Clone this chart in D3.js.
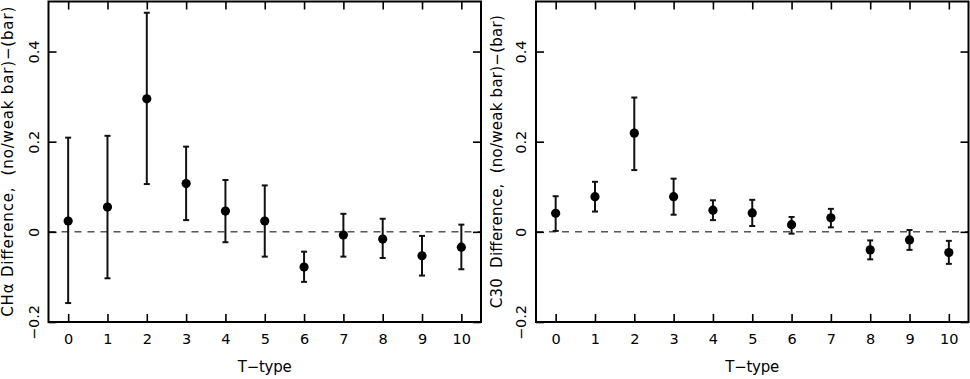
<html>
<head>
<meta charset="utf-8">
<script src="https://d3js.org/d3.v7.min.js"></script>
<style>
body { margin: 0; background: #fff; }
svg { font-family: 'DejaVu Sans', sans-serif; }
.axis path { display: none; }
.axis line { stroke: #000; stroke-width: 1.6; }
.axis text { font-size: 14.5px; fill: #000; font-family: 'DejaVu Sans', sans-serif; }
.frame { fill: none; stroke: #000; stroke-width: 2; }
.zero { stroke: #000; stroke-width: 1; stroke-dasharray: 7,6; }
.err { stroke: #111; stroke-width: 2; }
.title { font-size: 15px; white-space: pre; fill: #000; }
</style>
</head>
<body>
<svg></svg>
<script>

var width = 970,
    height = 379;

// data
var ttypes = [0, 1, 2, 3, 4, 5, 6, 7, 8, 9, 10];

var chaMean = [0.024, 0.055, 0.295, 0.107, 0.046, 0.024, -0.078, -0.007, -0.016, -0.053, -0.034];
var chaHigh = [0.209, 0.213, 0.486, 0.189, 0.115, 0.103, -0.044, 0.040, 0.029, -0.009, 0.016];
var chaLow  = [-0.158, -0.103, 0.106, 0.026, -0.023, -0.055, -0.111, -0.055, -0.058, -0.097, -0.083];

var c30Mean = [0.041, 0.078, 0.219, 0.078, 0.048, 0.042, 0.016, 0.031, -0.040, -0.018, -0.046];
var c30High = [0.079, 0.111, 0.298, 0.118, 0.070, 0.071, 0.033, 0.051, -0.019, 0.004, -0.020];
var c30Low  = [0.002, 0.045, 0.137, 0.038, 0.026, 0.013, -0.004, 0.010, -0.061, -0.040, -0.071];

var yTicks = [-0.2, 0, 0.2, 0.4];
var xTicks = ttypes;

var svg = d3.select('svg')
  .attr('width', width)
  .attr('height', height);

function yFmt(d) {
  return d === 0 ? '0' : d3.format('.1f')(d);
}

function panel(opts) {
  var x = d3.scaleLinear().domain([-0.5, 10.5]).range([opts.left, opts.right]);
  var y = d3.scaleLinear().domain([-0.2, 0.511]).range([322, 1.5]);

  var g = svg.append('g');

  // bottom axis (ticks inward)
  var xa = g.append('g').attr('class', 'axis')
    .attr('transform', 'translate(0,' + y.range()[0] + ')')
    .call(d3.axisBottom(x).tickValues(xTicks).tickSizeInner(-8).tickSizeOuter(0).tickFormat(d3.format('d')));
  xa.selectAll('text').attr('y', 21.5).attr('dy', null);

  // top ticks
  g.append('g').attr('class', 'axis')
    .attr('transform', 'translate(0,' + y.range()[1] + ')')
    .call(d3.axisTop(x).tickValues(xTicks).tickSizeInner(-8).tickSizeOuter(0).tickFormat(''));

  // left axis, labels rotated
  var ya = g.append('g').attr('class', 'axis')
    .attr('transform', 'translate(' + opts.left + ',0)')
    .call(d3.axisLeft(y).tickValues(yTicks).tickSizeInner(-8).tickSizeOuter(0).tickFormat(yFmt));
  ya.selectAll('text')
    .attr('x', 0).attr('dy', null)
    .attr('text-anchor', 'middle')
    .attr('transform', 'translate(' + (opts.labelX - opts.left) + ',0) rotate(-90)');

  // right ticks
  g.append('g').attr('class', 'axis')
    .attr('transform', 'translate(' + opts.right + ',0)')
    .call(d3.axisRight(y).tickValues(yTicks).tickSizeInner(-8).tickSizeOuter(0).tickFormat(''));

  // dashed zero line
  g.append('line').attr('class', 'zero')
    .attr('x1', opts.left).attr('x2', opts.right)
    .attr('y1', y(0)).attr('y2', y(0));

  // error bars
  var bars = g.selectAll('.eb').data(ttypes).enter().append('g').attr('class', 'eb');
  bars.append('line').attr('class', 'err')
    .attr('x1', function(d) { return x(d); }).attr('x2', function(d) { return x(d); })
    .attr('y1', function(d, i) { return y(opts.high[i]); })
    .attr('y2', function(d, i) { return y(opts.low[i]); });
  bars.append('line').attr('class', 'err')
    .attr('x1', function(d) { return x(d) - 3; }).attr('x2', function(d) { return x(d) + 3; })
    .attr('y1', function(d, i) { return y(opts.high[i]); })
    .attr('y2', function(d, i) { return y(opts.high[i]); });
  bars.append('line').attr('class', 'err')
    .attr('x1', function(d) { return x(d) - 3; }).attr('x2', function(d) { return x(d) + 3; })
    .attr('y1', function(d, i) { return y(opts.low[i]); })
    .attr('y2', function(d, i) { return y(opts.low[i]); });

  // points
  g.selectAll('circle').data(ttypes).enter().append('circle')
    .attr('cx', function(d) { return x(d); })
    .attr('cy', function(d, i) { return y(opts.mean[i]); })
    .attr('r', 4.6)
    .attr('fill', '#000');

  // frame
  g.append('rect').attr('class', 'frame')
    .attr('x', opts.left).attr('y', y.range()[1])
    .attr('width', opts.right - opts.left)
    .attr('height', y.range()[0] - y.range()[1]);

  // titles
  g.append('text').attr('class', 'title')
    .attr('x', (opts.left + opts.right) / 2)
    .attr('y', 372)
    .attr('text-anchor', 'middle')
    .attr('textLength', 54)
    .attr('lengthAdjust', 'spacing')
    .text('T\u2212type');

  g.append('text').attr('class', 'title')
    .attr('text-anchor', 'middle')
    .attr('textLength', opts.titleLen)
    .attr('lengthAdjust', 'spacing')
    .attr('transform', 'translate(' + opts.titleX + ',' + (y.range()[0] + y.range()[1]) / 2 + ') rotate(-90)')
    .text(opts.ylabel);
}

panel({
  left: 48.5, right: 481, labelX: 39, titleX: 12.5, titleLen: 310,
  mean: chaMean, high: chaHigh, low: chaLow,
  ylabel: 'CH\u03b1 Difference,  (no/weak bar)\u2212(bar)'
});

panel({
  left: 536, right: 968.5, labelX: 526, titleX: 501.5, titleLen: 293,
  mean: c30Mean, high: c30High, low: c30Low,
  ylabel: 'C30  Difference,  (no/weak bar)\u2212(bar)'
});

</script>
</body>
</html>
